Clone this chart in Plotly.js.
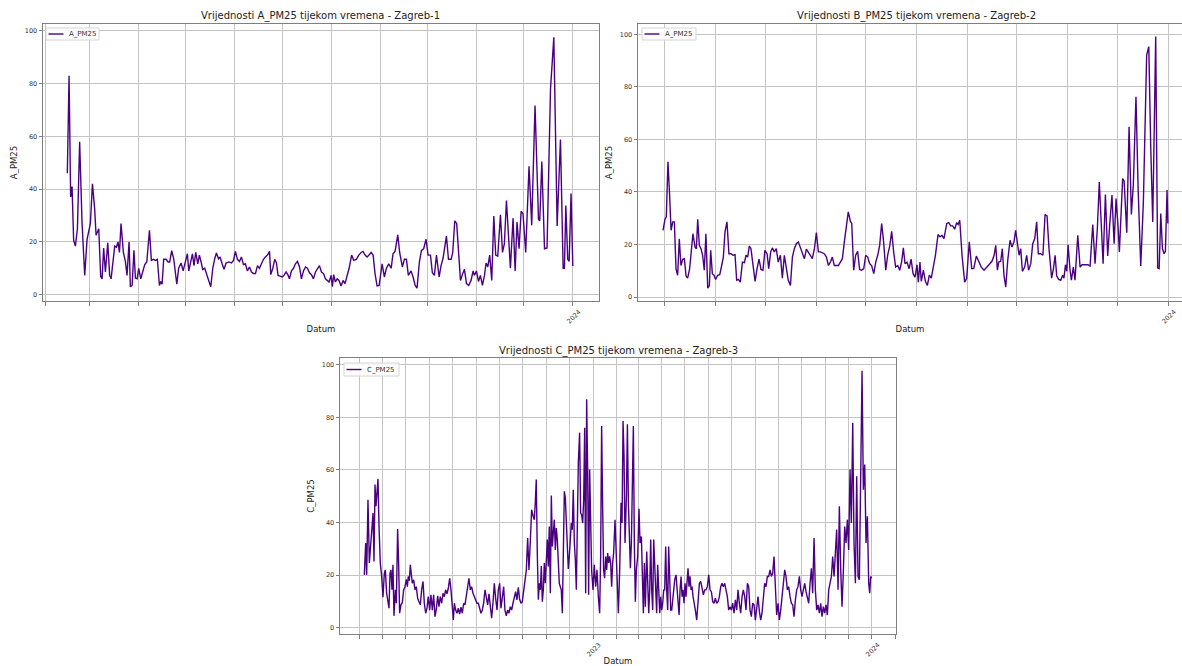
<!DOCTYPE html>
<html>
<head>
<meta charset="utf-8">
<script src="https://cdn.plot.ly/plotly-3.0.1.min.js"></script>
<style>html,body{margin:0;padding:0;background:#fff;}#chart{width:1182px;height:666px;}</style>
</head>
<body>
<div id="chart"></div>
<script>
// ---------- DATA ----------
// Zagreb-1 : days since 2023-01-01 and A_PM25 values
const dayA = [44.9,46.0,47.0,47.9,48.9,50.0,51.3,52.7,54.2,55.9,57.4,59.5,60.8,62.2,63.1,64.8,66.0,66.9,67.9,69.0,70.5,71.7,72.6,73.6,74.9,76.0,77.0,77.9,78.9,80.4,81.7,82.7,84.0,84.8,85.9,87.1,88.0,89.1,90.1,91.4,92.6,93.9,95.2,96.9,98.1,99.4,100.7,101.9,103.2,104.0,104.9,105.9,107.4,108.7,109.7,111.0,112.3,113.3,114.2,115.4,116.9,118.2,119.7,120.9,121.8,122.8,124.1,125.1,126.2,127.5,128.5,129.6,130.6,131.9,133.2,134.4,135.7,137.0,138.2,139.3,140.6,141.6,142.9,144.1,145.4,147.1,148.8,150.1,151.3,152.6,153.9,155.1,156.4,157.6,158.9,160.2,161.5,162.7,164.0,165.3,166.5,167.8,169.1,170.3,171.6,172.9,173.7,175.0,176.2,177.3,178.3,179.6,180.9,182.1,183.4,184.7,185.5,186.8,188.1,189.3,190.6,191.9,193.1,194.4,195.7,196.9,198.2,199.5,200.7,202.0,203.3,204.5,205.8,207.1,208.3,210.6,211.9,212.7,213.5,214.6,215.7,216.9,218.2,219.5,220.7,222.0,223.3,224.9,226.2,227.9,229.4,230.9,232.1,233.4,234.7,235.9,237.2,238.5,239.7,241.0,242.3,244.2,245.6,246.9,248.4,249.9,251.1,252.4,254.1,255.3,257.0,258.3,259.6,260.8,262.5,263.8,265.1,266.3,267.8,269.1,270.5,272.0,273.3,274.8,276.0,277.3,278.6,280.3,281.5,282.8,284.1,284.9,286.2,287.9,288.9,290.2,291.4,292.7,293.8,295.0,296.3,297.6,299.0,300.5,301.8,302.6,303.9,305.2,306.4,307.7,309.0,310.0,311.1,312.3,313.6,314.9,316.1,317.4,319.1,320.4,321.6,322.9,324.2,325.4,327.1,328.4,329.6,330.9,332.2,333.4,335.1,337.2,338.9,341.0,343.2,344.0,345.3,347.0,348.6,350.8,352.9,355.0,357.1,358.8,359.6,360.5,361.7,362.6,363.8,364.9];
const valA = [46,83,37,41,20.6,18.4,25,58,27.5,7.3,21,27,42,32.6,22.5,25,7,6,17.7,8.6,19.7,7.3,6,12.4,18.4,18,20,16,27,16,12.4,7.3,20,3,3.5,16.8,6.3,6,10,6,9,11.4,12.4,24.4,13,13.4,13,13.4,3.5,5,4,13.4,13.4,12.4,12.4,16.7,13.4,7.3,4,10,12,9,12.4,15.5,9,11.4,15.5,11,16,11.7,15,12.4,9.6,10,8,5.4,3,10,13.6,15.8,13.6,14.3,11.7,9.6,12,12.4,12,13,16.4,13.4,12.6,14.3,11.4,11.7,9,10.5,8.6,8,8,11,10,12,13.4,14.3,15,16.4,7.6,10,13.4,12,7.3,7,6.7,7.3,8.6,7.3,6,9,10,11.7,12.6,10.5,6,9,10.5,10,8.3,7.6,6,8.6,10,11,8.6,8,6,4.8,7.3,3,7.6,4.8,6,5.4,3.3,5.4,4.2,6.7,10,15,13,13.4,15,16,16.4,15,14.3,15,16,15,8,3.3,3.5,11.7,6.7,10,11.7,10,15.5,16.4,22.7,16,10.5,13.4,13.4,7.3,9,6.7,3.5,2.5,12.4,16.8,17.4,21,15,15,8.3,7.3,15,6.7,11,13.9,18.4,22.2,13.4,13.4,16,28,27,13.4,5.4,7.6,9.6,4.2,3.5,5.4,9,7.3,9,5,7.3,3.5,7.3,12,10.5,15,5.4,29.8,15,14.6,30.3,16,19.3,35.7,21.2,10,29,9,27.5,17.4,31.6,30.7,16,48.7,26.3,71.7,28.5,28,50.5,17.4,17.7,78,97.6,26,58.8,10,10,33.8,13.4,12.6,38.3,10.9];

// Zagreb-2 : days since 2023-01-01 and B_PM25 values
const dayB = [57.8,59.0,59.8,60.8,61.8,62.7,63.7,64.7,65.7,66.7,67.7,68.7,69.8,70.8,71.8,72.8,74.0,75.2,76.0,77.3,78.1,78.9,79.9,80.9,81.9,82.9,83.9,85.0,86.0,86.8,87.8,88.8,89.8,91.0,92.3,93.5,94.5,95.5,96.7,97.9,99.2,100.4,101.6,102.6,103.6,104.8,106.1,107.3,108.3,109.3,110.3,111.3,112.5,113.8,115.0,116.2,117.4,118.6,119.8,121.1,122.1,123.3,124.3,125.5,126.7,127.9,129.2,130.4,131.6,132.8,134.0,135.3,136.5,137.7,138.9,140.1,141.3,142.6,143.8,145.0,146.2,147.4,148.6,149.9,151.1,152.3,153.5,154.7,155.9,157.2,158.4,159.6,160.8,162.0,163.2,164.5,165.7,166.9,168.1,169.3,170.5,171.8,172.6,173.8,175.0,176.2,177.4,178.6,179.9,181.1,182.3,183.5,184.7,186.0,187.2,188.4,189.6,190.8,192.0,193.3,194.5,195.7,196.9,198.1,199.3,200.6,201.8,203.0,204.0,205.0,206.2,207.5,208.7,209.9,211.1,212.3,213.1,214.1,214.9,216.2,217.4,218.6,219.8,221.0,222.2,223.5,225.1,226.3,227.5,228.7,230.4,231.6,232.8,234.0,235.2,236.4,237.3,238.3,239.7,241.3,242.5,244.1,245.6,246.8,248.4,250.0,251.4,253.1,254.7,256.3,257.9,259.2,260.2,261.2,262.0,263.2,264.2,265.2,266.3,267.5,268.9,270.1,271.3,272.3,273.3,274.4,275.4,276.4,277.8,279.0,280.2,281.5,282.7,283.9,285.1,286.1,287.5,288.9,290.2,291.4,292.6,294.2,295.3,296.3,297.3,298.5,299.7,300.9,301.7,302.6,303.4,304.2,305.4,306.2,307.4,308.4,310.1,311.5,312.7,314.5,316.3,317.6,319.2,320.6,322.0,323.2,324.3,325.5,326.9,328.3,329.5,330.9,332.2,333.4,334.6,335.4,337.4,338.3,339.9,341.3,342.7,343.9,345.5,346.8,348.4,350.0,352.0,353.3,354.5,355.7,357.5,358.7,359.6,360.6,361.6,362.6,363.4,364.4,364.9];
const valB = [25.4,29.6,30.5,51.5,38.8,25.4,28.6,28.6,10.8,8.3,22.2,12,14.4,14.6,8,7.2,10.8,18.4,24.1,19,18.4,29.6,19.7,18.4,15.9,10.2,24.1,3.4,4.4,17.8,8.9,8.3,6.7,8.3,8.5,12,15.2,24.8,28.6,16.5,16.5,15.9,16.1,6.4,6.7,5.7,13.3,13.1,15.9,15.2,19.4,18.4,13.3,6,10.8,14.4,10.5,10.2,17.8,16.5,10.8,17.2,18.7,17.2,18.4,13.3,15.9,7.2,15.9,11.4,6.4,4.4,15.2,18.4,20.3,21,19,16.5,14.6,18.2,17.2,15.9,14.6,18.4,24.5,17.2,17.2,16.9,16.5,15.2,12,13.3,15.2,12,12,12,13.3,14.6,21,27.3,32.4,28.8,28,10.2,15.9,17.4,10.5,10.2,10.8,15.9,15.2,12.7,12,8.9,13.3,15.9,19.7,28,21,10.2,16.1,19.4,25,17.2,11.4,12,10.2,13.6,18.7,12.7,13.3,10.8,14.4,8.9,7.6,12.3,5.7,13.3,6,10.2,6,4.4,8.3,7.2,10.8,15.9,23.8,22.9,23.5,22.2,28,28.3,27.1,27.1,25.8,28.3,27.6,29.2,15.9,5.7,7,21,10.8,10.8,15.6,13.6,11.4,10.2,11.4,12.7,13.6,15.9,19.7,10.2,13.3,13.6,18.4,8.3,3.8,14,21.6,19,21,25.4,19.7,15.9,18.4,9.8,11.4,15.9,10.2,12.7,20.3,22.2,28.6,16.5,16.5,15.9,31.4,30.9,18.4,7.2,10.8,15.9,8,6.7,6.4,8.3,7.2,12.3,9.8,19.9,10.2,6.4,11.4,6.4,23.5,11.4,12.3,12.3,12.3,11.8,27.6,12.7,26,43.8,27.3,12.7,39,15.6,27.3,38.8,20.3,37.5,26.7,17.2,45.1,44.1,24.5,64.8,31.4,42.8,76.2,41.3,11.8,36.2,92.1,95.3,56.5,28.6,99.1,11.1,10.8,31.8,18.4,16.5,17.4,40.7,28];

// Zagreb-3 : days since 2022-01-01 and C_PM25 values
const dayC = [65.8,67.6,68.9,70.6,72.4,74.1,75.4,77.2,78.5,79.8,81.1,82.4,83.7,85.0,86.7,88.5,90.2,92.0,93.3,95.0,96.8,98.1,99.4,100.7,102.0,103.3,104.6,106.4,107.7,109.4,110.7,112.0,113.8,115.5,117.3,119.0,120.8,122.1,123.4,124.7,126.0,127.3,128.6,130.4,132.1,133.8,135.6,137.3,139.1,140.8,142.6,144.3,146.1,147.8,149.5,151.3,153.0,154.8,156.5,158.3,160.0,161.8,163.5,165.2,167.0,168.7,170.5,172.2,174.0,175.7,177.5,179.2,180.9,182.3,183.6,185.3,187.1,188.8,190.5,192.3,194.0,195.8,197.5,199.3,201.0,202.7,204.5,206.2,208.0,209.7,211.5,213.2,215.0,216.7,218.4,220.2,221.9,223.7,225.4,227.2,228.9,230.7,232.4,234.1,235.9,237.6,239.4,241.1,242.9,244.6,246.4,248.1,249.8,251.6,253.3,255.1,256.8,258.6,260.3,262.1,263.8,265.5,267.3,269.0,270.8,272.5,274.3,276.0,277.8,279.5,281.2,283.0,284.7,286.5,288.2,289.5,290.8,292.1,293.5,294.8,296.1,297.4,298.7,300.0,301.3,302.6,303.9,305.2,306.5,307.8,309.2,310.5,311.8,313.1,314.4,315.7,317.0,318.3,319.6,320.9,322.2,323.5,324.9,326.2,327.5,328.8,330.1,331.4,332.7,334.0,335.3,336.6,337.9,339.2,340.6,341.9,343.2,344.5,345.8,347.5,348.8,350.1,351.5,352.8,354.1,355.4,356.7,358.0,359.3,360.6,361.9,363.2,365.0,366.7,368.5,370.2,372.0,373.7,375.0,376.3,377.6,378.9,380.2,381.6,382.9,384.2,385.5,386.8,388.1,389.4,390.7,392.0,393.8,396.4,398.2,399.9,401.7,403.0,404.3,405.6,406.9,408.7,410.0,411.3,412.6,413.9,415.2,416.5,417.8,419.1,420.4,421.7,423.5,425.2,426.5,428.3,429.6,430.9,432.2,433.5,435.3,436.6,437.9,439.2,440.5,441.8,443.1,444.4,445.7,447.0,448.3,449.6,451.0,452.3,453.6,454.9,456.2,457.5,458.8,460.1,461.4,462.7,464.0,465.3,466.7,468.0,469.3,470.6,471.9,473.6,474.9,476.2,477.6,478.9,480.2,481.5,482.8,484.1,485.4,486.7,488.0,489.3,490.6,491.9,493.3,494.6,495.9,497.2,498.9,500.7,502.4,504.2,505.9,507.6,509.4,511.1,512.9,514.6,516.4,518.1,519.9,521.6,523.3,525.1,526.8,528.6,530.3,532.1,533.8,535.6,537.3,539.0,540.8,542.5,544.3,546.0,547.8,549.5,551.3,553.0,554.7,556.5,558.2,560.0,561.7,563.5,565.2,567.0,568.7,570.4,572.2,573.9,575.7,577.4,579.2,580.9,582.7,584.4,586.1,587.9,589.6,591.4,593.1,594.9,596.6,598.4,600.1,601.8,603.6,605.3,607.1,608.8,610.6,612.3,614.1,615.8,617.5,619.3,621.0,622.8,624.5,626.3,628.0,629.8,631.5,633.2,635.0,636.7,638.5,640.2,642.0,643.7,645.5,647.2,649.0,650.7,652.4,654.2,655.9,657.7,659.4,661.2,662.9,664.6,666.4,668.1,669.9,671.6,673.4,675.1,676.9,678.6,680.4,682.1,683.8,685.6,687.3,689.1,690.8,692.6,694.3,696.0,697.8,699.5,701.3,703.0,704.8,706.5,708.3,710.0,711.7,713.5,715.2,717.0,718.7,720.5,722.2,724.0,725.7,727.0,728.3,729.5];
const valC = [20.1,32.2,20.1,48.7,24.6,32.2,38.5,43.6,25.2,54.5,46.2,50,56.6,39.2,24.6,19.5,11.6,20.7,22,13.1,8.7,7.4,20.7,22,14.4,23.9,4.5,14.4,9.3,37.5,24.6,5.5,8.7,9.5,14.4,15.6,18.4,15.6,19.5,17.9,23.9,18.4,16.9,18.2,14.4,15.6,11.2,9.9,8.7,14.4,17.6,9.3,5.5,7.4,11.8,6.7,12.5,6.7,12.5,4.2,7,12.1,8,11.8,9.3,13.1,11.8,14.4,12.9,15,18.8,14.4,9.3,2.9,9.3,6.7,5.5,7.4,5.2,7.8,5.5,9.3,8.7,11.8,14.4,18.8,14.4,15.6,13.1,11.8,9.9,9.3,9.3,7.4,5.5,6.7,9.3,14.4,11.8,8.7,12.9,6.7,3.6,9.3,16.9,11.2,6.7,14.4,16.9,7.4,12.9,15.6,6.7,4.5,6.7,5.5,8,6.7,9.3,11.8,13.7,10.6,15.4,10.8,9.3,9.9,14.4,19.5,22,34.1,22,32.8,44.9,42.6,41.1,47.5,56.4,28.4,10.6,16.9,14.4,23.5,9.9,14.4,24.6,16.9,29.6,33.5,23.3,38.5,13.1,50.3,30.9,37.3,41.1,29.6,37.9,33.5,27.1,16.9,15.6,14.4,5.5,34.7,51.9,49.4,39.8,32.2,22.3,27.1,34.1,39.8,37.3,52.5,32.2,25.8,14.4,39.8,62.7,74.2,43.6,43,39.8,48.7,76.1,13.1,86.9,60.2,12.5,60.2,34.7,22,14.4,23.9,15.6,22,11.8,5.5,27.1,76.7,46.2,22,18.8,27.1,22,28.4,24.6,27.1,24.6,15.6,24.6,28.4,41.1,22,5.5,22,47.5,39.8,78.6,65.3,32.2,50,77.4,47.5,29.6,22.6,32.2,52.5,76.7,32.2,9.9,22,27.1,45.2,32.2,34.7,20.7,5.5,24.6,8,29,16.9,5.5,14.4,33.5,14.4,6.7,33.5,22,9.3,5.5,23.9,9.3,5.5,11.8,6.7,9.3,14.4,14.4,30.9,14.4,6.7,30.9,14.4,6.7,6.7,11.8,14.4,18.2,20.1,15.6,8,4.8,14.4,19.5,11.8,14.4,9.3,16.9,11.8,18.2,22.6,15.6,19.5,14.4,15.6,11.8,8.7,6.7,2.9,11.8,16.9,17.6,14.4,12.5,14.4,14.4,15.6,20.1,14.4,13.7,9.9,9.3,11.2,9.3,9.9,11.8,15.6,16.9,15.6,16.9,14.4,11.8,6.7,8,6.7,9.3,5.5,10.6,6.7,14.4,9.3,5.5,11.8,14.4,11.8,6.7,16.9,15.6,6.7,4.2,9.3,8.7,2.9,6.7,11.8,6.1,2.9,5.5,11.8,16.9,15.6,19.5,19.5,22,19.5,20.7,27.1,12.5,4.8,9.3,2.9,6.7,10.6,16.9,22,19.5,14.4,15.6,11.8,9.3,8.7,4.2,10.6,14.4,15.6,19.5,14.4,11.8,14.4,16.9,13.7,11.8,9.3,16.9,22.6,13.1,34.1,14.4,6.7,8.7,5.5,9.3,4.2,8,5.5,8.7,4.8,14.4,16.9,19.5,27.1,19.5,28.4,37.3,14.4,46.2,22,8,22,38.5,32.2,41.1,29.6,60.2,39.8,78,32.2,16.9,57.6,19.5,18.2,65.3,97.7,52.5,62.1,32.2,42.4,16.9,13.1,19.5,18.8];

const yTicks = [0, 20, 40, 60, 80, 100];
const yearLabels = {'2023-01-01': '2023', '2024-01-01': '2024'};
const titles = ['Vrijednosti A_PM25 tijekom vremena - Zagreb-1',
                'Vrijednosti B_PM25 tijekom vremena - Zagreb-2',
                'Vrijednosti C_PM25 tijekom vremena - Zagreb-3'];
const legendNames = ['A_PM25', 'A_PM25', 'C_PM25'];
const yTitles = ['A_PM25', 'A_PM25', 'C_PM25'];
const xTitle = 'Datum';

// ---------- helpers ----------
const DAY = 86400000;
function toDates(year, days) {
  const base = Date.UTC(year, 0, 1);
  return days.map(d => new Date(base + d * DAY).toISOString().slice(0, 19).replace('T', ' '));
}
function monthTicks(y0, m0, y1, m1) {
  const vals = [];
  let y = y0, m = m0;
  while (y < y1 || (y === y1 && m <= m1)) {
    vals.push(y + '-' + String(m).padStart(2, '0') + '-01');
    m++; if (m > 12) { m = 1; y++; }
  }
  return vals;
}

const FONT = 'DejaVu Sans, Arial, sans-serif';
const LINE = '#4b0082';
const GRID = '#c4c4c4';
const FRAME = '#7f7f7f';

function xAxis(domain, range, tickvals, standoff) {
  return {
    type: 'date', domain: domain, range: range,
    tickmode: 'array', tickvals: tickvals,
    ticktext: tickvals.map(v => yearLabels[v] || ''),
    tickangle: -45, ticklabelshift: 6,
    ticks: 'outside', ticklen: 3.5, tickwidth: 1, tickcolor: FRAME,
    tickfont: {family: FONT, size: 6.5, color: '#333'},
    showgrid: true, gridcolor: GRID, gridwidth: 1,
    showline: true, linecolor: FRAME, linewidth: 1, mirror: true,
    zeroline: false,
    title: {text: xTitle, font: {family: FONT, size: 8.5, color: '#222'}, standoff: standoff}
  };
}
function yAxis(domain, range, title, mirror, anchor) {
  return {
    domain: domain, range: range, anchor: anchor,
    tickmode: 'array', tickvals: yTicks,
    ticks: 'outside', ticklen: 3.5, tickwidth: 1, tickcolor: FRAME,
    tickfont: {family: FONT, size: 6.5, color: '#333'},
    showgrid: true, gridcolor: GRID, gridwidth: 1,
    showline: true, linecolor: FRAME, linewidth: 1, mirror: mirror,
    zeroline: false,
    title: {text: title, font: {family: FONT, size: 8.5, color: '#222'}, standoff: 5}
  };
}

const W = 1182, H = 666;
const px = v => v / W, py = v => 1 - v / H;

const traces = [
  {x: toDates(2023, dayA), y: valA, type: 'scatter', mode: 'lines', name: legendNames[0],
   line: {color: LINE, width: 1.4}, xaxis: 'x', yaxis: 'y', showlegend: false},
  {x: toDates(2023, dayB), y: valB, type: 'scatter', mode: 'lines', name: legendNames[1],
   line: {color: LINE, width: 1.4}, xaxis: 'x2', yaxis: 'y2', showlegend: false},
  {x: toDates(2022, dayC), y: valC, type: 'scatter', mode: 'lines', name: legendNames[2],
   line: {color: LINE, width: 1.4}, xaxis: 'x3', yaxis: 'y3', showlegend: false}
];

// matplotlib-style compact legend boxes (box, line sample, label)
const shapes = [];
const annotations = [];
function legendBox(x0, y0, x1, y1, lx0, lx1, tx, text) {
  const ym = (y0 + y1) / 2;
  shapes.push({type: 'rect', xref: 'paper', yref: 'paper', x0: px(x0), x1: px(x1), y0: py(y0), y1: py(y1),
    line: {color: '#d4d4d4', width: 1}, fillcolor: 'rgba(255,255,255,0.85)', layer: 'above'});
  shapes.push({type: 'line', xref: 'paper', yref: 'paper', x0: px(lx0), x1: px(lx1), y0: py(ym), y1: py(ym),
    line: {color: LINE, width: 1.4}, layer: 'above'});
  annotations.push({text: text, xref: 'paper', yref: 'paper', x: px(tx), y: py(ym),
    xanchor: 'left', yanchor: 'middle', showarrow: false,
    font: {family: FONT, size: 7, color: '#333'}});
}
legendBox(46, 28, 99, 40, 48.5, 63.5, 67, legendNames[0]);
legendBox(642, 28, 696, 40, 644.5, 659.5, 663, legendNames[1]);
legendBox(344, 363, 399, 376, 346.5, 361.5, 365, legendNames[2]);

function titleAnn(text, cx, cy) {
  return {text: text, xref: 'paper', yref: 'paper', x: px(cx), y: py(cy),
    xanchor: 'center', yanchor: 'middle', showarrow: false,
    font: {family: FONT, size: 10, color: '#222'}};
}
annotations.push(titleAnn(titles[0], 320, 16));
annotations.push(titleAnn(titles[1], 916, 16));
annotations.push(titleAnn(titles[2], 618, 351));

const layout = {
  width: W, height: H,
  margin: {l: 0, r: 0, t: 0, b: 0, pad: 0},
  paper_bgcolor: '#ffffff', plot_bgcolor: '#ffffff',
  showlegend: false,
  xaxis: xAxis([px(43), px(599)], ['2023-01-30 12:00', '2024-01-17 12:00'], monthTicks(2023, 2, 2024, 1), 1),
  yaxis: yAxis([py(301), py(24)], [-2.4, 102.6], yTitles[0], true, 'x'),
  xaxis2: xAxis([px(638), 1], ['2023-02-12 14:00', '2024-01-09 12:00'], monthTicks(2023, 3, 2024, 1), 1),
  yaxis2: yAxis([py(301), py(24)], [-1.5, 103.9], yTitles[1], false, 'x2'),
  xaxis3: xAxis([px(340), px(896)], ['2022-02-04 00:00', '2024-02-01 10:00'], monthTicks(2022, 2, 2024, 2), 8),
  yaxis3: yAxis([py(634), py(358)], [-2.4, 102.6], yTitles[2], true, 'x3'),
  shapes: shapes,
  annotations: annotations
};
layout.xaxis.anchor = 'y';
layout.xaxis2.anchor = 'y2';
layout.xaxis3.anchor = 'y3';

Plotly.newPlot('chart', traces, layout, {displayModeBar: false, staticPlot: true});
</script>
</body>
</html>
